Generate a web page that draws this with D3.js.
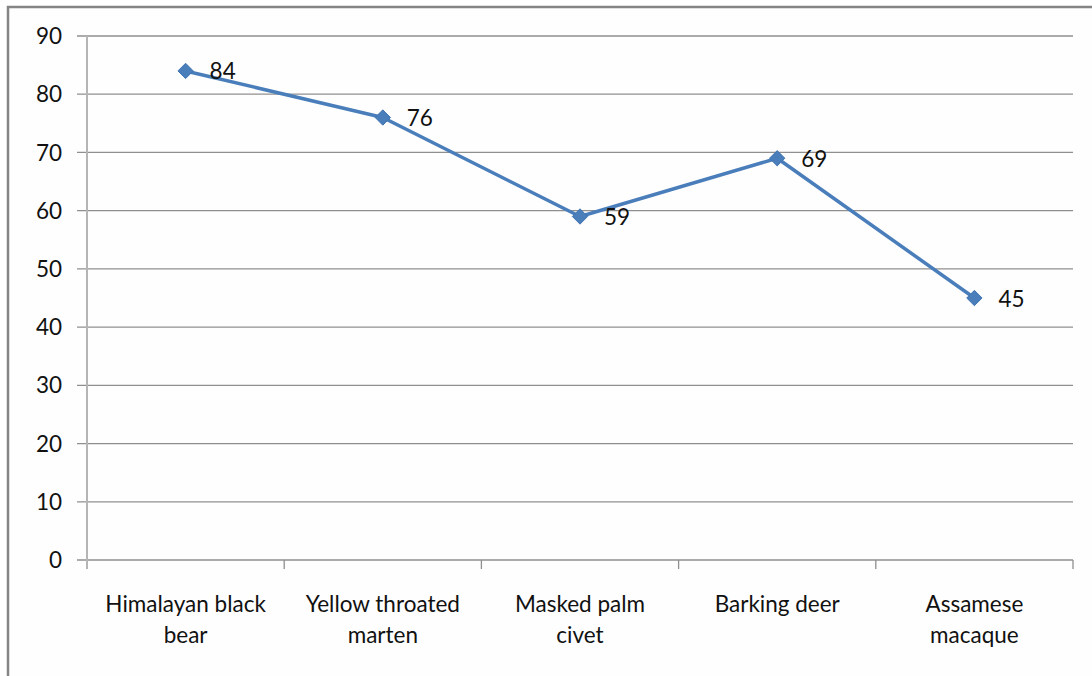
<!DOCTYPE html>
<html><head><meta charset="utf-8">
<script src="https://cdn.jsdelivr.net/npm/d3@7"></script>
<style>body{margin:0;background:#fff}svg{display:block}</style>
</head><body>
<svg id="c" width="1092" height="676"></svg>
<script>
const categories = [["Himalayan black","bear"],["Yellow throated","marten"],["Masked palm","civet"],["Barking deer"],["Assamese","macaque"]];
const values = [84, 76, 59, 69, 45];
const yTicks = [0,10,20,30,40,50,60,70,80,90];

const svg = d3.select("#c");
const font = "Lato, 'Open Sans', sans-serif";
// outer frame
svg.append("rect").attr("x",8).attr("y",7).attr("width",1100).attr("height",700)
  .attr("fill","#fefefe").attr("stroke","#858585").attr("stroke-width",2.5);

const L=87, R=1073, T=36, B=560;
const x = d3.scaleBand().domain(d3.range(categories.length)).range([L,R]);
const y = d3.scaleLinear().domain([0,90]).range([B,T]);

// gridlines
svg.append("g").selectAll("line").data(yTicks).join("line")
  .attr("x1",77).attr("x2",R).attr("y1",d=>y(d)).attr("y2",d=>y(d))
  .attr("stroke","#8f8f8f").attr("stroke-width",1.3);
// y axis line
svg.append("line").attr("x1",L).attr("x2",L).attr("y1",T).attr("y2",B+9)
  .attr("stroke","#b5b5b5").attr("stroke-width",2);
// x category ticks
const bounds = d3.range(categories.length+1).map(i=> i<categories.length ? x(i) : R);
svg.append("g").selectAll("line").data(bounds.slice(1)).join("line")
  .attr("x1",d=>d).attr("x2",d=>d).attr("y1",B).attr("y2",B+9)
  .attr("stroke","#8f8f8f").attr("stroke-width",1.3);

// y labels
svg.append("g").selectAll("text").data(yTicks).join("text")
  .attr("x",62).attr("y",d=>y(d)).attr("dy","0.36em").attr("text-anchor","end")
  .attr("font-family",font).attr("font-size",22.5).attr("fill","#111").text(d=>d);

// x labels
const xl = svg.append("g").selectAll("text").data(categories).join("text")
  .attr("text-anchor","middle").attr("font-family",font).attr("font-size",22.5).attr("fill","#111")
  .attr("transform",(d,i)=>`translate(${x(i)+x.bandwidth()/2},612)`);
xl.selectAll("tspan").data(d=>d).join("tspan").attr("x",0).attr("dy",(d,i)=>i?31:0).text(d=>d);

// line
const cx = i => x(i)+x.bandwidth()/2;
svg.append("path").datum(values)
  .attr("d", d3.line().x((d,i)=>cx(i)).y(d=>y(d)))
  .attr("fill","none").attr("stroke","#4a7ebb").attr("stroke-width",3.5).attr("stroke-linejoin","round");
// markers
svg.append("g").selectAll("path").data(values).join("path")
  .attr("d", d3.symbol(d3.symbolDiamond2, 150))
  .attr("transform",(d,i)=>`translate(${cx(i)},${y(d)})`)
  .attr("fill","#4a7ebb").attr("stroke","#4275b3").attr("stroke-width",1);
// data labels
svg.append("g").selectAll("text").data(values).join("text")
  .attr("x",(d,i)=>cx(i)+24).attr("y",d=>y(d)).attr("dy","0.38em")
  .attr("font-family",font).attr("font-size",22.5).attr("fill","#111").text(d=>d);
</script>
</body></html>
